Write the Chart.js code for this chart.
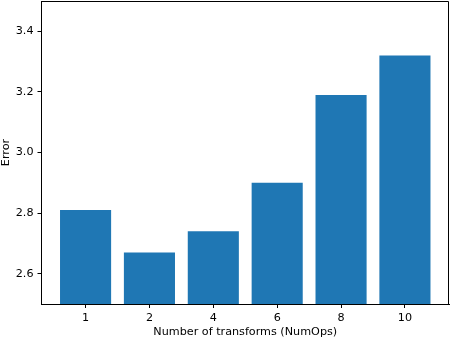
<!DOCTYPE html>
<html>
<head>
<meta charset="utf-8">
<script src="https://cdn.jsdelivr.net/npm/chart.js@4/dist/chart.umd.min.js"></script>
<style>
html,body{margin:0;padding:0;background:#fff;}
#wrap{width:452px;height:340px;position:relative;}
</style>
</head>
<body>
<div id="wrap"><canvas id="c"></canvas></div>
<script>
const categories = ["1", "2", "4", "6", "8", "10"];
const errorValues = [2.81, 2.67, 2.74, 2.90, 3.19, 3.32];
const yTicks = [2.6, 2.8, 3.0, 3.2, 3.4];
const xLabel = "Number of transforms (NumOps)";
const yLabel = "Error";

const FONT = {family: "'DejaVu Sans', sans-serif", size: 11.2};

const frame = {
  id: 'frame',
  afterDatasetsDraw(chart) {
    const a = chart.chartArea, ctx = chart.ctx;
    ctx.save();
    ctx.strokeStyle = '#000';
    ctx.lineWidth = 1;
    ctx.beginPath();
    ctx.moveTo(a.left, a.top + 0.5);
    ctx.lineTo(a.right - 0.5, a.top + 0.5);
    ctx.lineTo(a.right - 0.5, a.bottom);
    ctx.stroke();
    ctx.restore();
  }
};

new Chart(document.getElementById('c'), {
  type: 'bar',
  data: {
    datasets: [{
      data: errorValues.map((v, i) => ({x: i, y: v})),
      backgroundColor: '#1f77b4',
      borderWidth: 0,
      categoryPercentage: 1,
      barPercentage: 0.8
    }]
  },
  options: {
    responsive: true,
    maintainAspectRatio: false,
    animation: false,
    layout: {padding: {top: 1, right: 3, left: 0, bottom: 0}},
    plugins: {legend: {display: false}, tooltip: {enabled: false}},
    scales: {
      x: {
        type: 'linear',
        min: -0.69,
        max: 5.69,
        offset: false,
        afterBuildTicks(s) { s.ticks = categories.map((c, i) => ({value: i})); },
        afterFit(s) { s.height = 36; s.paddingLeft = 0; s.paddingRight = 0; },
        grid: {display: true, drawOnChartArea: false, drawTicks: true, tickLength: 4, color: '#000', offset: false},
        border: {display: true, color: '#000', width: 1},
        ticks: {color: '#000', font: FONT, padding: 3, maxRotation: 0, autoSkip: false,
          callback: (v) => categories[v]},
        title: {display: true, text: xLabel, color: '#000', font: {...FONT, lineHeight: 1}, padding: {top: 2, bottom: 2}}
      },
      y: {
        min: 2.5,
        max: 3.5,
        afterBuildTicks(s) { s.ticks = yTicks.map(v => ({value: v})); },
        afterFit(s) { s.width = 41.5; s.paddingTop = 0; s.paddingBottom = 0; },
        grid: {display: true, drawOnChartArea: false, drawTicks: true, tickLength: 4, color: '#000'},
        border: {display: true, color: '#000', width: 1},
        ticks: {color: '#000', font: FONT, padding: 4, callback: (v) => v.toFixed(1)},
        title: {display: true, text: yLabel, color: '#000', font: {...FONT, lineHeight: 1}, padding: 0}
      }
    }
  },
  plugins: [frame]
});
</script>
</body>
</html>
